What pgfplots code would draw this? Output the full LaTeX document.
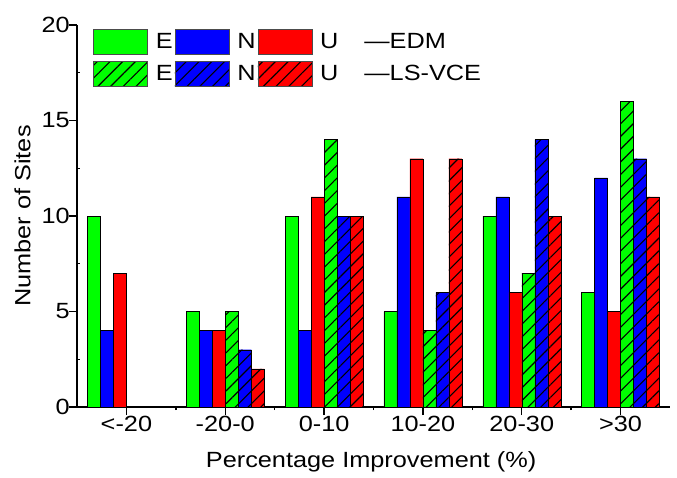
\documentclass[border=0pt]{standalone}
\usepackage{fontspec}
\setmainfont{Liberation Sans}[FakeStretch=1.15]
\usepackage{pgfplots}
\pgfplotsset{compat=1.18}
\usetikzlibrary{patterns.meta,calc}
\definecolor{cG}{RGB}{0,255,0}
\definecolor{cB}{RGB}{0,0,255}
\definecolor{cR}{RGB}{255,0,0}
\tikzset{hatch/.style={postaction={pattern={Lines[angle=45,distance=9pt,line width=1.1pt]},pattern color=black}}}
\newcommand{\fs}{\fontsize{22}{26}\selectfont}
\begin{document}
\begin{tikzpicture}
\begin{axis}[
  scale only axis, width=593pt, height=382pt,
  xmin=-0.5, xmax=5.5, ymin=0, ymax=20,
  axis x line*=bottom, axis y line*=left,
  axis line style={line width=1.6pt,-},
  ybar, bar width=13pt,
  xtick={0,...,5}, xticklabels={<-20,-20-0,0-10,10-20,20-30,>30},
  minor xtick={0.5,1.5,2.5,3.5,4.5},
  ytick={0,5,10,15,20}, minor ytick={2.5,7.5,12.5,17.5},
  tick align=outside, major tick length=8pt, minor tick length=3pt,
  tick style={line width=1.4pt,black},
  minor y tick style={xshift=3pt},
  /pgf/number format/assume math mode=true,
  tick label style={font=\fs,inner sep=1pt},
  yticklabel style={xshift=2pt},
  xlabel={Percentage Improvement (\%)},
  ylabel={Number of Sites},
  every axis x label/.style={at={(axis description cs:0.496,-0.144)},anchor=center,font=\fs},
  every axis y label/.style={at={(axis description cs:-0.092,0.5)},anchor=center,rotate=90,font=\fs},
  legend columns=4,
  legend cell align=left,
  legend style={draw=none,fill=none,at={(axis description cs:0,1)},anchor=north west,
    xshift=13pt,yshift=-2pt,font=\fs,row sep=6pt,
    /tikz/every even column/.append style={column sep=0pt}},
  legend image code/.code={\draw[#1,draw=black!70,line width=0.6pt] (0pt,-12.5pt) rectangle (54pt,12.5pt);},
]
\addlegendimage{fill=cG}
\addlegendimage{fill=cB}
\addlegendimage{fill=cR}
\addlegendimage{empty legend}
\addlegendimage{fill=cG,hatch}
\addlegendimage{fill=cB,hatch}
\addlegendimage{fill=cR,hatch}
\addlegendimage{empty legend}
\legend{\hspace{6pt}E\hspace{2pt},\hspace{6pt}N\hspace{1pt},\hspace{6pt}U\hspace{1pt},{\hspace{22pt}—EDM},\hspace{6pt}E\hspace{2pt},\hspace{6pt}N\hspace{1pt},\hspace{6pt}U\hspace{1pt},{\hspace{22pt}—LS-VCE}}
\addplot[fill=cG,draw=black,bar shift=-32.5pt] coordinates {(0,10)(1,5)(2,10)(3,5)(4,10)(5,6)};
\addplot[fill=cB,draw=black,bar shift=-19.5pt] coordinates {(0,4)(1,4)(2,4)(3,11)(4,11)(5,12)};
\addplot[fill=cR,draw=black,bar shift=-6.5pt] coordinates {(0,7)(1,4)(2,11)(3,13)(4,6)(5,5)};
\addplot[fill=cG,draw=black,hatch,bar shift=6.5pt] coordinates {(1,5)(2,14)(3,4)(4,7)(5,16)};
\addplot[fill=cB,draw=black,hatch,bar shift=19.5pt] coordinates {(1,3)(2,10)(3,6)(4,14)(5,13)};
\addplot[fill=cR,draw=black,hatch,bar shift=32.5pt] coordinates {(1,2)(2,10)(3,13)(4,10)(5,11)};
\end{axis}
\pgfresetboundingbox
\path ($(current axis.south west)+(-77pt,-70pt)$) rectangle ($(current axis.north east)+(7pt,25pt)$);
\end{tikzpicture}
\end{document}
